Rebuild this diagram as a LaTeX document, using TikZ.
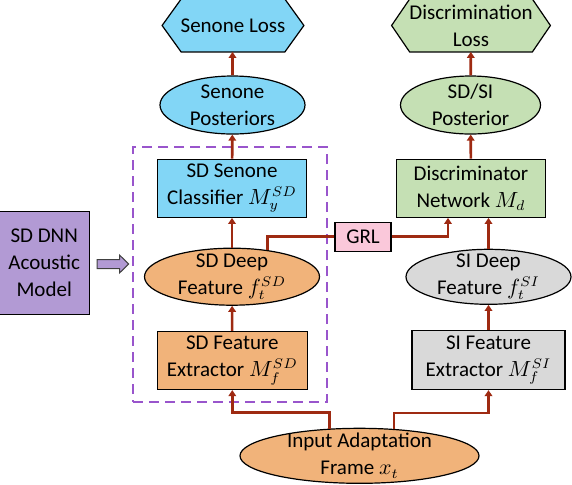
\documentclass[tikz,border=0pt]{standalone}
\usepackage{fontspec}
\setmainfont{Carlito}
\usetikzlibrary{arrows.meta,shapes.geometric,backgrounds}
\definecolor{senB}{RGB}{130,214,246}
\definecolor{discG}{RGB}{197,224,180}
\definecolor{featO}{RGB}{241,179,122}
\definecolor{siG}{RGB}{217,217,217}
\definecolor{dnnP}{RGB}{178,154,212}
\definecolor{grlP}{RGB}{250,200,218}
\definecolor{flowR}{RGB}{158,42,18}
\definecolor{frameP}{RGB}{153,85,204}
% hexagon behind a loss node: name, fill, inset
\newcommand\losshex[3]{%
  \filldraw[fill=#2,line width=0.6pt] (#1.west) -- ([xshift=#3]#1.north west) -- ([xshift=-#3]#1.north east)
    -- (#1.east) -- ([xshift=-#3]#1.south east) -- ([xshift=#3]#1.south west) -- cycle;}

\begin{document}
\begin{tikzpicture}[x=0.5pt,y=0.5pt,>={Triangle[length=3pt,width=3.8pt]},
  every node/.style={font=\fontsize{10.5}{13.5}\selectfont,align=center,inner sep=0pt},
  blk/.style={rectangle,draw,line width=0.6pt},
  ell/.style={ellipse,draw,line width=0.6pt,inner ysep=-2pt},
  loss/.style={rectangle,minimum height=26pt},
  flow/.style={->,draw=flowR,line width=1.3pt}]
\useasboundingbox (0,0) rectangle (572,-484);

\node[loss,minimum width=70.5pt] (sloss) at (233,-25.5) {Senone Loss};
\node[ell,fill=senB,minimum width=72.5pt,minimum height=29pt] (spost) at (232.5,-105) {Senone\\Posteriors};
\node[loss,minimum width=79pt] (dloss) at (471,-25.5) {Discrimination\\Loss};
\node[ell,fill=discG,minimum width=70pt,minimum height=29pt] (dpost) at (470.5,-105) {SD/SI\\Posterior};

\node[draw=frameP,line width=1.25pt,dash pattern=on 5pt off 3pt,minimum width=97pt,minimum height=127.5pt] (sdnet) at (230,-274.5) {};
\node[blk,fill=senB,minimum width=74.5pt,minimum height=29pt] (sdcls) at (232,-188.3) {SD Senone\\Classifier $M_{y}^{SD}$};
\node[ell,fill=featO,minimum width=87.5pt,minimum height=28.5pt] (sddeep) at (232,-276.7) {SD Deep\\Feature $f_{t}^{SD}$};
\node[blk,fill=featO,minimum width=75pt,minimum height=29pt] (sdext) at (232.3,-360.5) {SD Feature\\Extractor $M_{f}^{SD}$};
\node[blk,fill=dnnP,minimum width=45pt,minimum height=51.5pt] (dnn) at (44.2,-262.7) {SD DNN\\Acoustic\\Model};

\node[blk,fill=grlP,minimum width=28pt,minimum height=14.5pt] (grl) at (363,-236.7) {GRL};
\node[blk,fill=discG,minimum width=74.5pt,minimum height=29pt] (disc) at (471,-188.3) {Discriminator\\Network $M_{d}$};
\node[ell,fill=siG,minimum width=82.5pt,minimum height=27.5pt] (sideep) at (488.5,-276.8) {SI Deep\\Feature $f_{t}^{SI}$};
\node[blk,fill=siG,minimum width=76.5pt,minimum height=29.5pt] (siext) at (488.5,-360) {SI Feature\\Extractor $M_{f}^{SI}$};
\node[ell,fill=featO,minimum width=119.5pt,minimum height=27.5pt] (input) at (359.5,-455.8) {Input Adaptation\\Frame $x_{t}$};

\begin{scope}[on background layer]
\losshex{sloss}{senB}{9.5pt}
\losshex{dloss}{discG}{9pt}
\end{scope}

\filldraw[fill=dnnP,draw=black!75,line width=0.5pt] ([xshift=3.6pt,yshift=1.6pt]dnn.east) -- ++(22.5,0) -- ++(0,4.5)
  -- ++(9.2,-9) -- ++(-9.2,-9) -- ++(0,4.5) -- ++(-22.5,0) -- cycle;

\draw[flow] (spost.north) -- (spost.north |- sloss.south);
\draw[flow] (sdcls) -- (spost);
\draw[flow] (sddeep) -- (sdcls);
\draw[flow] (sdext) -- (sddeep);
\draw[flow] (dpost) -- (dloss);
\draw[flow] (disc) -- (dpost);
\draw[flow] (sideep.north) -- (sideep.north |- disc.south);
\draw[flow] (siext) -- (sideep);
\draw[flow,-] (sddeep.37) |- (grl.west);
\draw[flow] (grl.east) -| ([xshift=-11.5pt]disc.south);
\draw[flow] (input.138) -- ++(0,16) -| (sdext.south);
\draw[flow] (input.38) -- ++(0,16) -| (siext.south);
\end{tikzpicture}
\end{document}
